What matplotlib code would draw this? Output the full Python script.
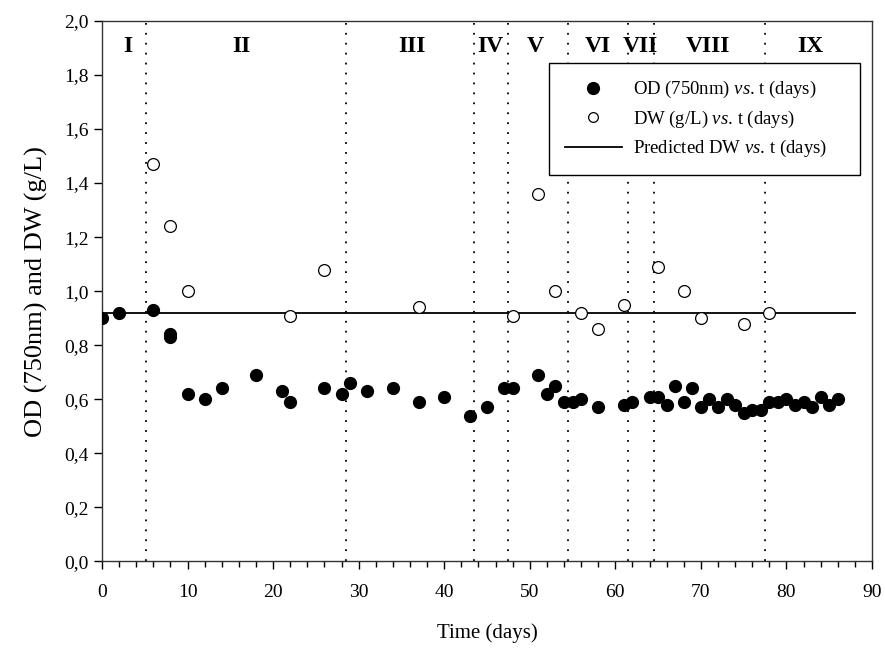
import matplotlib
matplotlib.use("Agg")
import matplotlib.pyplot as plt
from matplotlib.ticker import MultipleLocator, FuncFormatter

plt.rcParams['font.family'] = ['Liberation Serif', 'DejaVu Serif']
plt.rcParams['mathtext.fontset'] = 'custom'
plt.rcParams['mathtext.rm'] = 'Liberation Serif'
plt.rcParams['mathtext.it'] = 'Liberation Serif:italic'
plt.rcParams['mathtext.bf'] = 'Liberation Serif:bold'

# OD (750nm) data
od_t = [0, 2, 6, 8, 8, 10, 12, 14, 18, 21, 22, 26, 28, 29, 31, 34, 37, 40, 43, 45,
        47, 48, 51, 52, 53, 54, 55, 56, 58, 61, 62, 64, 65, 66, 67, 68, 69, 70, 71,
        72, 73, 74, 75, 76, 77, 78, 79, 80, 81, 82, 83, 84, 85, 86]
od_v = [0.90, 0.92, 0.93, 0.83, 0.84, 0.62, 0.60, 0.64, 0.69, 0.63, 0.59, 0.64, 0.62, 0.66, 0.63, 0.64, 0.59, 0.61, 0.54, 0.57,
        0.64, 0.64, 0.69, 0.62, 0.65, 0.59, 0.59, 0.60, 0.57, 0.58, 0.59, 0.61, 0.61, 0.58, 0.65, 0.59, 0.64, 0.57, 0.60,
        0.57, 0.60, 0.58, 0.55, 0.56, 0.56, 0.59, 0.59, 0.60, 0.58, 0.59, 0.57, 0.61, 0.58, 0.60]

# DW (g/L) data
dw_t = [6, 8, 10, 22, 26, 37, 48, 51, 53, 56, 58, 61, 65, 68, 70, 75, 78]
dw_v = [1.47, 1.24, 1.00, 0.91, 1.08, 0.94, 0.91, 1.36, 1.00, 0.92, 0.86, 0.95, 1.09, 1.00, 0.90, 0.88, 0.92]

# Predicted DW
pred_t = [0, 88]
pred_v = [0.92, 0.92]

# Phase boundaries and labels
phase_bounds = [5.1, 28.5, 43.5, 47.5, 54.5, 61.5, 64.5, 77.5]
phase_labels = ['I', 'II', 'III', 'IV', 'V', 'VI', 'VII', 'VIII', 'IX']
phase_label_x = [3.0, 16.3, 36.2, 45.4, 50.6, 58.0, 62.9, 70.8, 82.8]

fig = plt.figure(figsize=(8.85, 6.54), dpi=100)
ax = fig.add_axes([0.1153, 0.1415, 0.8700, 0.8265])

for xb in phase_bounds:
    ax.axvline(xb, color='black', linestyle=(0, (1, 4.5)), linewidth=1.3, zorder=1)

ax.plot(pred_t, pred_v, color='black', linewidth=1.3,
        label=r'$\mathrm{Predicted\ DW}\ \mathit{vs.}\!\ \mathrm{t\ (days)}$', zorder=2)
ax.plot(od_t, od_v, linestyle='none', marker='o', markersize=8.5, markerfacecolor='black',
        markeredgecolor='black', label=r'$\mathrm{OD\ (750nm)}\ \mathit{vs.}\!\ \mathrm{t\ (days)}$', zorder=4)
ax.plot(dw_t, dw_v, linestyle='none', marker='o', markersize=8.5, markerfacecolor='white',
        markeredgecolor='black', markeredgewidth=0.9,
        label=r'$\mathrm{DW\ (g/L)}\ \mathit{vs.}\!\ \mathrm{t\ (days)}$', zorder=3)

for lx, lab in zip(phase_label_x, phase_labels):
    ax.text(lx, 1.905, lab, ha='center', va='center', fontsize=17, fontweight='bold')

ax.set_xlim(0, 90)
ax.set_ylim(0, 2.0)
ax.xaxis.set_major_locator(MultipleLocator(10))
ax.xaxis.set_minor_locator(MultipleLocator(2))
ax.yaxis.set_major_locator(MultipleLocator(0.2))
ax.yaxis.set_major_formatter(FuncFormatter(lambda v, p: f"{v:.1f}".replace('.', ',')))
ax.tick_params(axis='both', which='major', direction='out', length=6, width=1, labelsize=14, top=False, right=False)
ax.tick_params(axis='x', which='major', pad=10)
ax.tick_params(axis='x', which='minor', direction='out', length=4, width=1)
for s in ax.spines.values():
    s.set_linewidth(1.0)
    s.set_color('#333333')

ax.set_xlabel('Time (days)', fontsize=15, labelpad=16)
ax.set_ylabel('OD (750nm) and DW (g/L)', fontsize=19, labelpad=12)

h, l = ax.get_legend_handles_labels()
order = [1, 2, 0]
leg = ax.legend([h[i] for i in order], [l[i] for i in order], loc='upper left',
                bbox_to_anchor=(0.581, 0.717, 0.403, 0.205), mode='expand',
                fontsize=13.5, frameon=True, fancybox=False,
                edgecolor='black', framealpha=1, handlelength=3.0, borderpad=0.85,
                labelspacing=0.45, handletextpad=0.6, borderaxespad=0.0)
leg.get_frame().set_linewidth(1.0)
leg.legend_handles[1].set_markersize(7)

fig.savefig('out.png', dpi=100)
